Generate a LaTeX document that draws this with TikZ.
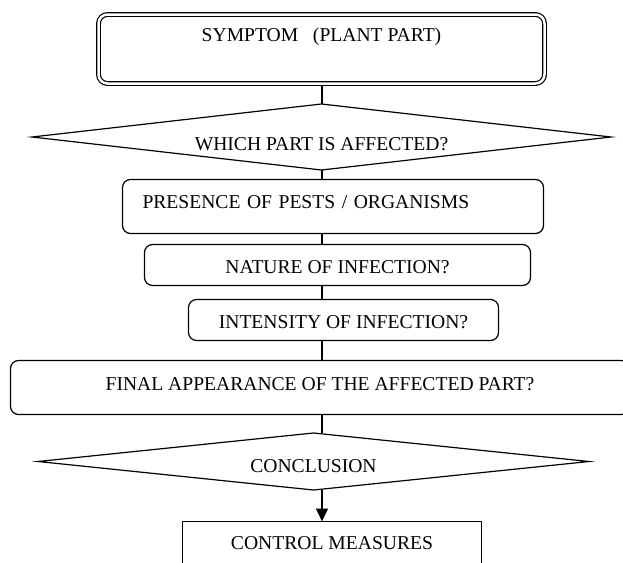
\documentclass[tikz,border=0pt]{standalone}
\usepackage{fontspec}
\setmainfont{Liberation Serif}
\usetikzlibrary{shapes.geometric,arrows.meta,positioning}

\begin{document}
\begin{tikzpicture}[x=1pt,y=1pt,line width=1.2pt,
font=\fontsize{19.6}{23}\selectfont]
\tikzstyle{stepbox}=[rectangle,rounded corners=8pt,draw=black,
inner sep=0pt,outer sep=0pt,align=center,
text height=13pt,text depth=0pt]
\tikzstyle{query}=[diamond,aspect=8.8,draw=black,
inner sep=0pt,outer sep=0pt,
text height=13pt,text depth=0pt]
\useasboundingbox (0,0) rectangle (623,-562);
\coordinate (axis) at (322,0);

\node[stepbox,double,double distance=2.5pt,rounded corners=9pt,
minimum width=446pt,minimum height=69pt,text depth=28pt] at (321.5,-49) (sym) {SYMPTOM\ \ \ (PLANT PART)};
\node[query,minimum width=579pt,minimum height=66pt,text height=26pt] at (321.5,-137) (part) {WHICH PART IS AFFECTED?};
\node[stepbox,align=left,text width=381pt,inner xsep=20pt,
minimum width=421pt,minimum height=54pt,text depth=9pt] at (333,-206.5) (pest) {PRESENCE OF PESTS / ORGANISMS};
\node[stepbox,minimum width=386pt,minimum height=41pt,text height=17pt] at (337.5,-265) (nat) {NATURE OF INFECTION?};
\node[stepbox,minimum width=310pt,minimum height=41pt,text height=17pt] at (343.5,-320) (int) {INTENSITY OF INFECTION?};
\node[stepbox,minimum width=619pt,minimum height=54pt,text depth=8pt] at (320,-387.5) (fin) {FINAL APPEARANCE OF THE AFFECTED PART?};
\node[query,minimum width=551pt,minimum height=57pt,text height=21pt] at (313.5,-461.5) (conc) {CONCLUSION};
\node[stepbox,sharp corners,minimum width=299pt,minimum height=46pt,text depth=4pt] at (332,-544.5) (ctrl) {CONTROL MEASURES};

\path ([yshift=-2.5pt]axis |- sym.south) edge (axis |- part.north) ;
\path (axis |- part.south) edge (axis |- pest.north) ;
\path (axis |- pest.south) edge (axis |- nat.north) ;
\path (axis |- nat.south) edge (axis |- int.north) ;
\path (axis |- int.south) edge (axis |- fin.north) ;
\path (axis |- fin.south) edge (axis |- conc.north) ;
\path[-{Triangle[length=13pt,width=12pt]}] (axis |- conc.south) edge (axis |- ctrl.north) ;

\end{tikzpicture}
\end{document}
